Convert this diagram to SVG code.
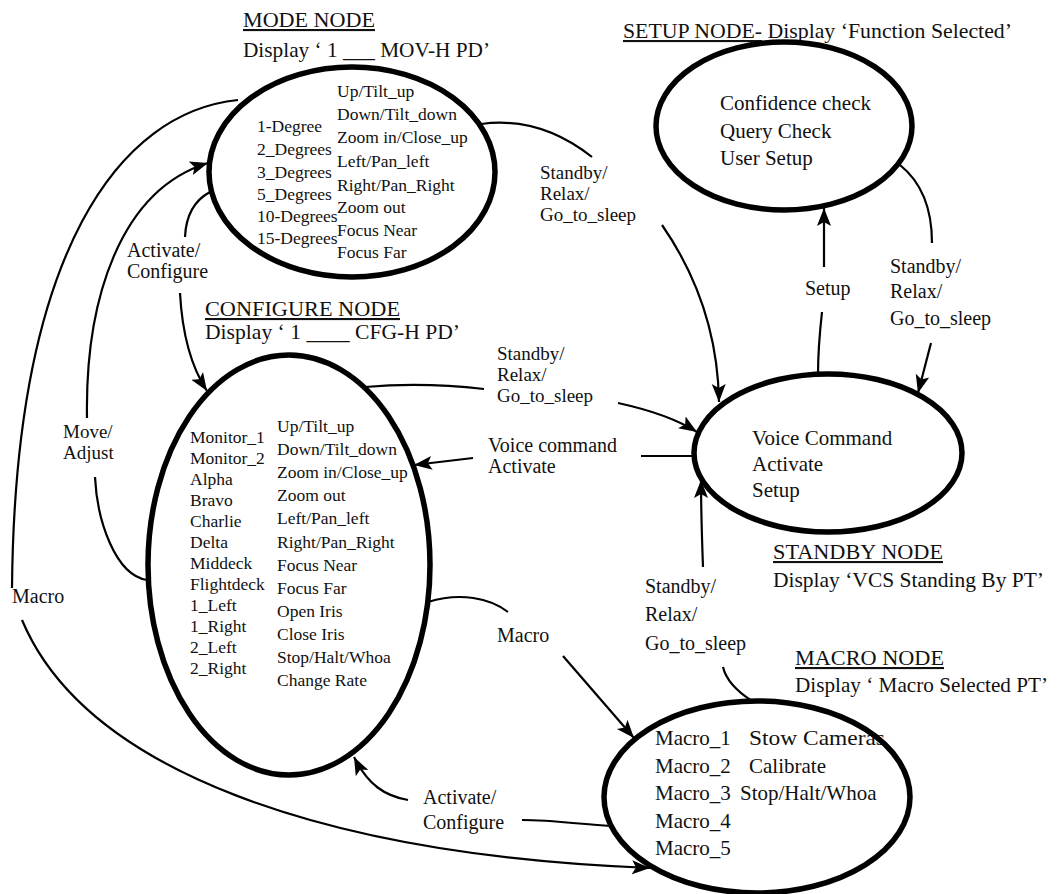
<svg xmlns="http://www.w3.org/2000/svg" width="1058" height="894" viewBox="0 0 1058 894">
<defs>
<style>
text{font-family:"Liberation Serif","Times New Roman",serif;fill:#111}
.t{font-size:21px}
.u{text-decoration:underline}
.s{font-size:17.5px}
.m{font-size:21px}
.l{font-size:20px}
.l2{font-size:19px}
.node{fill:none;stroke:#000;stroke-width:5.5}
.c{fill:none;stroke:#000;stroke-width:2.2}
.a{marker-end:url(#ah)}
</style>
<marker id="ah" markerUnits="userSpaceOnUse" markerWidth="20" markerHeight="16" refX="18" refY="7" orient="auto">
<path d="M0,0 L18,7 L0,14 L4,7 z" fill="#000"/>
</marker>
</defs>
<rect width="1058" height="894" fill="#fff"/>

<g id="connectors">
<path class="c" d="M481,124 Q540,116 592,157"/>
<path class="c a" d="M662,225 C700,280 718,340 719,402"/>
<path class="c" d="M900,165 C925,185 932,215 932,243"/>
<path class="c a" d="M931,343 L918,393"/>
<path class="c" d="M818,374 C818,350 820,330 822,312"/>
<path class="c a" d="M824,267 L824,208"/>
<path class="c" d="M365,387 C400,384 440,384 484,389"/>
<path class="c a" d="M618,403 C650,410 675,418 697,432"/>
<path class="c" d="M694,456 L641,456"/>
<path class="c a" d="M473,458 L414,465"/>
<path class="c" d="M752,701 C735,690 726,680 723,667"/>
<path class="c a" d="M703,567 C702,540 701,510 701,480"/>
<path class="c" d="M210,192 C195,200 186,215 185,237"/>
<path class="c a" d="M180,293 C182,330 190,365 207,391"/>
<path class="c" d="M147,580 C115,575 97,520 95,477"/>
<path class="c a" d="M87,418 C85,300 120,190 208,163"/>
<path class="c" d="M238,100 C120,112 15,250 12,588"/>
<path class="c a" d="M22,620 C85,770 320,855 650,868"/>
<path class="c" d="M428,602 C460,592 490,598 508,612"/>
<path class="c a" d="M563,656 L634,738"/>
<path class="c" d="M610,826 C580,824 550,820 522,820"/>
<path class="c a" d="M408,800 C385,796 368,785 354,757"/>

<text class="l2" x="540" y="179">Standby/</text>
<text class="l2" x="540" y="200">Relax/</text>
<text class="l2" x="540" y="221">Go_to_sleep</text>
<text class="l2" x="497" y="360">Standby/</text>
<text class="l2" x="497" y="381">Relax/</text>
<text class="l2" x="497" y="402">Go_to_sleep</text>
<text class="l" x="645" y="593">Standby/</text>
<text class="l" x="645" y="621">Relax/</text>
<text class="l" x="645" y="650">Go_to_sleep</text>
<text class="l" x="890" y="273">Standby/</text>
<text class="l" x="890" y="298">Relax/</text>
<text class="l" x="890" y="325">Go_to_sleep</text>
<text class="l" x="805" y="295">Setup</text>
<text class="l" x="488" y="452">Voice command</text>
<text class="l" x="488" y="473">Activate</text>
<text class="l" x="127" y="257">Activate/</text>
<text class="l" x="127" y="278">Configure</text>
<text class="l2" x="63" y="438">Move/</text>
<text class="l2" x="63" y="459">Adjust</text>
<text class="l" x="12" y="603">Macro</text>
<text class="l" x="497" y="642">Macro</text>
<text class="l" x="423" y="804">Activate/</text>
<text class="l" x="423" y="829">Configure</text>
</g>

<g id="mode-node">
<text class="t u" x="243" y="27" textLength="132" lengthAdjust="spacingAndGlyphs">MODE NODE</text>
<text class="t" x="243" y="57" textLength="247" lengthAdjust="spacingAndGlyphs">Display ‘ 1 ___ MOV-H PD’</text>
<ellipse class="node" cx="352" cy="172" rx="143" ry="105"/>
<g class="s">
<text x="257" y="132">1-Degree</text>
<text x="257" y="155">2_Degrees</text>
<text x="257" y="178">3_Degrees</text>
<text x="257" y="200">5_Degrees</text>
<text x="257" y="222">10-Degrees</text>
<text x="257" y="244">15-Degrees</text>
<text x="337" y="97">Up/Tilt_up</text>
<text x="337" y="120">Down/Tilt_down</text>
<text x="337" y="143">Zoom in/Close_up</text>
<text x="337" y="167">Left/Pan_left</text>
<text x="337" y="191">Right/Pan_Right</text>
<text x="337" y="213">Zoom out</text>
<text x="337" y="236">Focus Near</text>
<text x="337" y="258">Focus Far</text>
</g>
</g>

<g id="setup-node">
<text class="t" x="623" y="38" textLength="389" lengthAdjust="spacingAndGlyphs"><tspan class="u">SETUP NODE-</tspan> Display ‘Function Selected’</text>
<ellipse class="node" cx="784" cy="126" rx="128" ry="84"/>
<text class="m" x="720" y="110">Confidence check</text>
<text class="m" x="720" y="138">Query Check</text>
<text class="m" x="720" y="165">User Setup</text>
</g>

<g id="configure-node">
<text class="t u" x="205" y="316" textLength="195" lengthAdjust="spacingAndGlyphs">CONFIGURE NODE</text>
<text class="t" x="205" y="339" textLength="255" lengthAdjust="spacingAndGlyphs">Display ‘ 1 ____ CFG-H PD’</text>
<ellipse class="node" cx="289" cy="565" rx="141" ry="210"/>
<g class="s">
<text x="190" y="443">Monitor_1</text>
<text x="190" y="464">Monitor_2</text>
<text x="190" y="485">Alpha</text>
<text x="190" y="506">Bravo</text>
<text x="190" y="527">Charlie</text>
<text x="190" y="548">Delta</text>
<text x="190" y="569">Middeck</text>
<text x="190" y="590">Flightdeck</text>
<text x="190" y="611">1_Left</text>
<text x="190" y="632">1_Right</text>
<text x="190" y="653">2_Left</text>
<text x="190" y="674">2_Right</text>
<text x="277" y="432">Up/Tilt_up</text>
<text x="277" y="455">Down/Tilt_down</text>
<text x="277" y="478">Zoom in/Close_up</text>
<text x="277" y="501">Zoom out</text>
<text x="277" y="524">Left/Pan_left</text>
<text x="277" y="548">Right/Pan_Right</text>
<text x="277" y="571">Focus Near</text>
<text x="277" y="594">Focus Far</text>
<text x="277" y="617">Open Iris</text>
<text x="277" y="640">Close Iris</text>
<text x="277" y="663">Stop/Halt/Whoa</text>
<text x="277" y="686">Change Rate</text>
</g>
</g>

<g id="standby-node">
<ellipse class="node" cx="828" cy="453" rx="134" ry="79"/>
<text class="m" x="752" y="445">Voice Command</text>
<text class="m" x="752" y="471">Activate</text>
<text class="m" x="752" y="497">Setup</text>
<text class="t u" x="773" y="559" textLength="170" lengthAdjust="spacingAndGlyphs">STANDBY NODE</text>
<text class="t" x="773" y="587" textLength="271" lengthAdjust="spacingAndGlyphs">Display ‘VCS Standing By PT’</text>
</g>

<g id="macro-node">
<text class="t u" x="795" y="665" textLength="149" lengthAdjust="spacingAndGlyphs">MACRO NODE</text>
<text class="t" x="795" y="692" textLength="253" lengthAdjust="spacingAndGlyphs">Display ‘ Macro Selected  PT’</text>
<g class="m">
<text x="655" y="745">Macro_1</text>
<text x="655" y="773">Macro_2</text>
<text x="655" y="800">Macro_3</text>
<text x="655" y="828">Macro_4</text>
<text x="655" y="855">Macro_5</text>
<text x="749" y="745" textLength="136" lengthAdjust="spacingAndGlyphs">Stow Cameras</text>
<text x="749" y="773">Calibrate</text>
<text x="740" y="800">Stop/Halt/Whoa</text>
</g>
<ellipse class="node" cx="757" cy="797" rx="153" ry="96"/>
</g>
</svg>
